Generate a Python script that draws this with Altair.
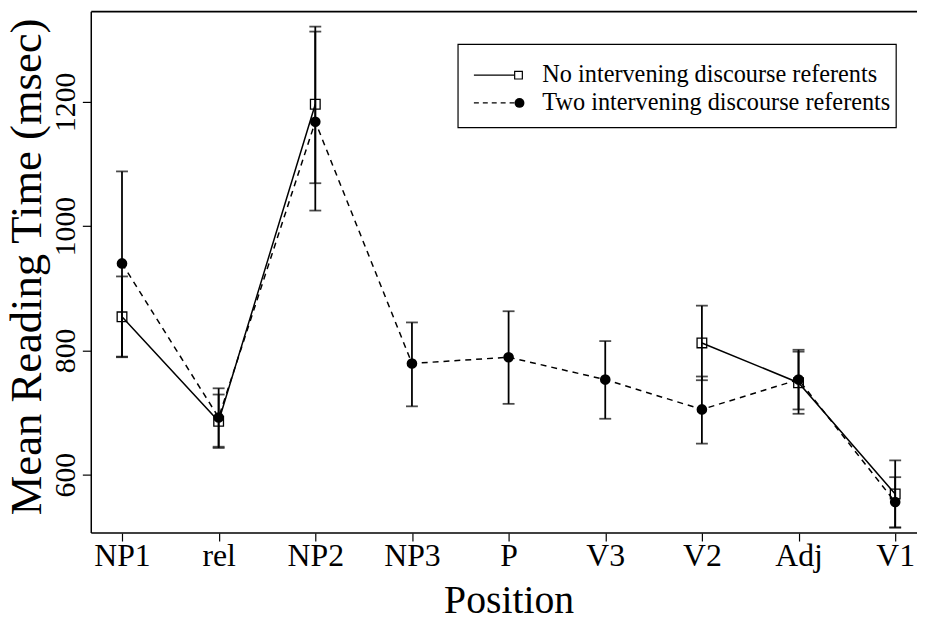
import altair as alt
import pandas as pd

positions = ["NP1", "rel", "NP2", "NP3", "P", "V3", "V2", "Adj", "V1"]

# No intervening discourse referents (solid line, open squares)
no_pos = ["NP1", "rel", "NP2", "V2", "Adj", "V1"]
no_mean = [854, 686, 1196, 812, 748, 569]
no_lower = [790, 643, 1069, 752, 698, 515]
no_upper = [919, 729, 1321, 872, 798, 623]
no_seg = [1, 1, 1, 2, 2, 2]

# Two intervening discourse referents (dashed line, filled circles)
two_pos = positions
two_mean = [940, 692, 1168, 779, 789, 753, 705, 753, 556]
two_lower = [789, 645, 1025, 710, 714, 690, 650, 705, 515]
two_upper = [1088, 739, 1313, 845, 863, 815, 758, 801, 596]

y_ticks = [600, 800, 1000, 1200]
legend_labels = ["No intervening discourse referents", "Two intervening discourse referents"]

FONT = "Liberation Serif"
YTITLE = "Mean Reading Time (msec)"
W, H = 833, 526

no_df = pd.DataFrame({"pos": no_pos, "mean": no_mean, "lower": no_lower,
                      "upper": no_upper, "seg": no_seg})
two_df = pd.DataFrame({"pos": two_pos, "mean": two_mean, "lower": two_lower,
                       "upper": two_upper})
err_df = pd.concat([no_df[["pos", "lower", "upper"]], two_df[["pos", "lower", "upper"]]])
cap_df = pd.concat([
    err_df[["pos", "lower"]].rename(columns={"lower": "v"}),
    err_df[["pos", "upper"]].rename(columns={"upper": "v"}),
])

xscale = alt.Scale(domain=positions, type="point", range=[31, 811], padding=0)
yscale = alt.Scale(domain=[506, 1345], nice=False, zero=False)


def X():
    return alt.X("pos:N", sort=positions, scale=xscale, title="Position",
                 axis=alt.Axis(labelAngle=0, tickSize=8, labelPadding=0,
                               labelFontSize=32, titleFontSize=40, titlePadding=9,
                               domain=False, tickColor="black", tickWidth=1.2,
                               labelColor="black", titleColor="black",
                               titleFontWeight="normal", labelFont=FONT, titleFont=FONT))


def Y(field):
    return alt.Y(field, scale=yscale, title=YTITLE,
                 axis=alt.Axis(values=y_ticks, format="d", grid=False, domain=False,
                               tickSize=9, labelAngle=-90, labelAlign="center",
                               labelBaseline="bottom", labelPadding=2, labelFontSize=30,
                               titleFontSize=45, titlePadding=1, titleY=257,
                               tickColor="black", tickWidth=1.2, labelColor="black",
                               titleColor="black", titleFontWeight="normal",
                               labelFont=FONT, titleFont=FONT))


rules = alt.Chart(err_df).mark_rule(color="black", strokeWidth=1.8).encode(
    x=X(), y=Y("lower:Q"), y2="upper:Q")
caps = alt.Chart(cap_df).mark_tick(color="black", thickness=1.8, size=12).encode(
    x=X(), y=Y("v:Q"))
solid = alt.Chart(no_df).mark_line(color="black", strokeWidth=1.5).encode(
    x=X(), y=Y("mean:Q"), detail="seg:N")
dashed = alt.Chart(two_df).mark_line(color="black", strokeWidth=1.5, strokeDash=[6, 5]).encode(
    x=X(), y=Y("mean:Q"))
squares = alt.Chart(no_df).mark_point(shape="square", filled=False, color="black",
                                      size=95, strokeWidth=1.3, opacity=1).encode(
    x=X(), y=Y("mean:Q"))
circles = alt.Chart(two_df).mark_point(shape="circle", filled=True, color="black",
                                       size=115, opacity=1).encode(
    x=X(), y=Y("mean:Q"))

one = pd.DataFrame({"k": [0]})

# Plot frame: top, left and bottom (right edge falls outside the picture)
frame_top = alt.Chart(one).mark_rule(color="black", strokeWidth=1.8).encode(
    x=alt.value(0), x2=alt.value(W + 10), y=alt.value(0))
frame_bottom = alt.Chart(one).mark_rule(color="black", strokeWidth=1.5).encode(
    x=alt.value(0), x2=alt.value(W + 10), y=alt.value(H))
frame_left = alt.Chart(one).mark_rule(color="black", strokeWidth=1.5).encode(
    x=alt.value(0), y=alt.value(0), y2=alt.value(H))

# Legend (decoration, positioned in pixels inside the plot area)
box = alt.Chart(one).mark_rect(fill="white", stroke="black", strokeWidth=1.2).encode(
    x=alt.value(370), x2=alt.value(812), y=alt.value(33), y2=alt.value(117))
leg_solid = alt.Chart(one).mark_rule(color="black", strokeWidth=1.3).encode(
    x=alt.value(386), x2=alt.value(427), y=alt.value(64))
leg_dash = alt.Chart(one).mark_rule(color="black", strokeWidth=1.3, strokeDash=[5, 4]).encode(
    x=alt.value(386), x2=alt.value(427), y=alt.value(92))
leg_sq = alt.Chart(one).mark_point(shape="square", filled=False, color="black", size=60,
                                   strokeWidth=1.2, opacity=1).encode(
    x=alt.value(431), y=alt.value(64))
leg_ci = alt.Chart(one).mark_point(shape="circle", filled=True, color="black", size=100,
                                   opacity=1).encode(
    x=alt.value(432), y=alt.value(92))
leg_text1 = alt.Chart(pd.DataFrame({"label": [legend_labels[0]]})).mark_text(
    align="left", baseline="middle", font=FONT, fontSize=24.5, color="black").encode(
    x=alt.value(455), y=alt.value(64), text="label:N")
leg_text2 = alt.Chart(pd.DataFrame({"label": [legend_labels[1]]})).mark_text(
    align="left", baseline="middle", font=FONT, fontSize=24.5, color="black").encode(
    x=alt.value(455), y=alt.value(92), text="label:N")

chart = alt.layer(
    rules, caps, solid, dashed, squares, circles,
    frame_top, frame_bottom, frame_left,
    box, leg_solid, leg_dash, leg_sq, leg_ci, leg_text1, leg_text2
).properties(
    width=W, height=H,
    padding={"left": 84, "top": 1, "right": 0, "bottom": 93},
    autosize="none",
).configure(font=FONT).configure_view(stroke="transparent")

chart.save("out.html", embed_options={"renderer": "svg", "actions": False})
